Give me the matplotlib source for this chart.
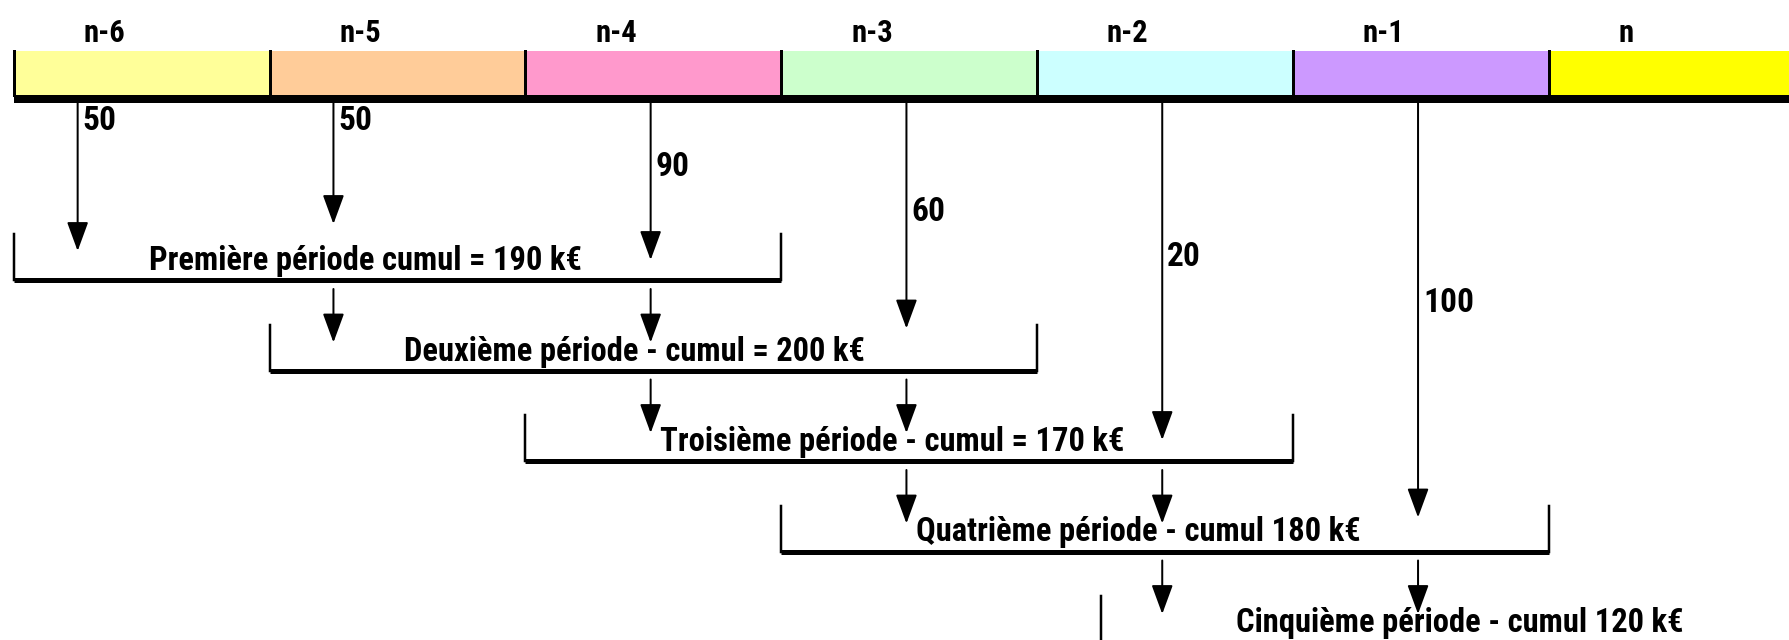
import matplotlib
matplotlib.use("Agg")
import matplotlib.pyplot as plt
from matplotlib import font_manager

years = ["n-6", "n-5", "n-4", "n-3", "n-2", "n-1", "n"]
colors = ["#FFFF99", "#FFCC99", "#FF99CC", "#CCFFCC", "#CCFFFF", "#CC99FF", "#FFFF00"]
amounts = [50, 50, 90, 60, 20, 100]
periods = ["Première période cumul = 190 k€",
           "Deuxième période - cumul = 200 k€",
           "Troisième période - cumul = 170 k€",
           "Quatrième période - cumul 180 k€",
           "Cinquième période - cumul 120 k€"]

names = sorted({f.name for f in font_manager.fontManager.ttflist})
family = "Liberation Sans"
for cand in ["Liberation Sans Narrow", "Roboto Condensed", "Open Sans Condensed"]:
    if cand in names:
        family = cand
        break

W, H = 1789, 640
fig = plt.figure(figsize=(W / 100, H / 100), dpi=100)
ax = fig.add_axes([0, 0, 1, 1])
ax.set_xlim(0, W)
ax.set_ylim(H, 0)
ax.axis("off")

PX = 0.72  # points per pixel
x0, seg = 13.7, 255.8
bar_top, bar_bot, base_y = 51, 95, 99
arrow_frac = [0.25, 0.25, 0.49, 0.49, 0.49, 0.49]
tip_nudge = [17, -10, 26, 4, 25, 12]
br_top0, br_h, br_step = 234, 46, 90.5
br_shift = [0, 0, 0, 0, 0.25]
font = dict(family=family, weight="bold", color="black")

# top bar
for i, (lab, c) in enumerate(zip(years, colors)):
    left = x0 + i * seg
    ax.add_patch(plt.Rectangle((left, bar_top), seg, bar_bot - bar_top,
                               facecolor=c, edgecolor="none"))
    ax.plot([left, left], [bar_top, bar_bot], color="black", lw=3 * PX)
    ax.text(left + 70, 42, lab, fontsize=22, ha="left", va="baseline", **font)
ax.plot([x0, W], [base_y, base_y], color="black", lw=8 * PX, solid_capstyle="butt")

ax_x = [x0 + j * seg + f * seg for j, f in enumerate(arrow_frac)]


def arrow(x, y1, y2):
    ax.annotate("", xy=(x, y2), xytext=(x, y1),
                arrowprops=dict(arrowstyle="-|>,head_length=0.9,head_width=0.33",
                                mutation_scale=20, lw=2 * PX, color="black",
                                shrinkA=0, shrinkB=0))


# brackets
tops = []
for k, txt in enumerate(periods):
    left = x0 + (k + br_shift[k]) * seg
    right = x0 + (k + 3) * seg
    top = br_top0 + k * br_step
    bot = top + br_h
    tops.append(top)
    ax.plot([left, left, right, right], [top, bot, bot, top], color="black",
            lw=2.5 * PX, solid_joinstyle="miter")
    ax.plot([left, right], [bot, bot], color="black", lw=5 * PX, solid_capstyle="butt")
    ax.text(left + 135, bot - 10, txt, fontsize=23.5, ha="left", va="baseline", **font)

# value arrows from the bar
for j, v in enumerate(amounts):
    k = max(0, j - 2)
    arrow(ax_x[j], base_y + 4, tops[k] + tip_nudge[j])
    ax.text(ax_x[j] + 5, 121 + 45.5 * max(0, j - 1), str(v), fontsize=24,
            ha="left", va="center", **font)

# carry-over arrows between periods
for k in range(len(periods) - 1):
    for j in (k + 1, k + 2):
        arrow(ax_x[j], tops[k] + br_h + 9, tops[k + 1] + 18)

fig.savefig("out.png", dpi=100)
